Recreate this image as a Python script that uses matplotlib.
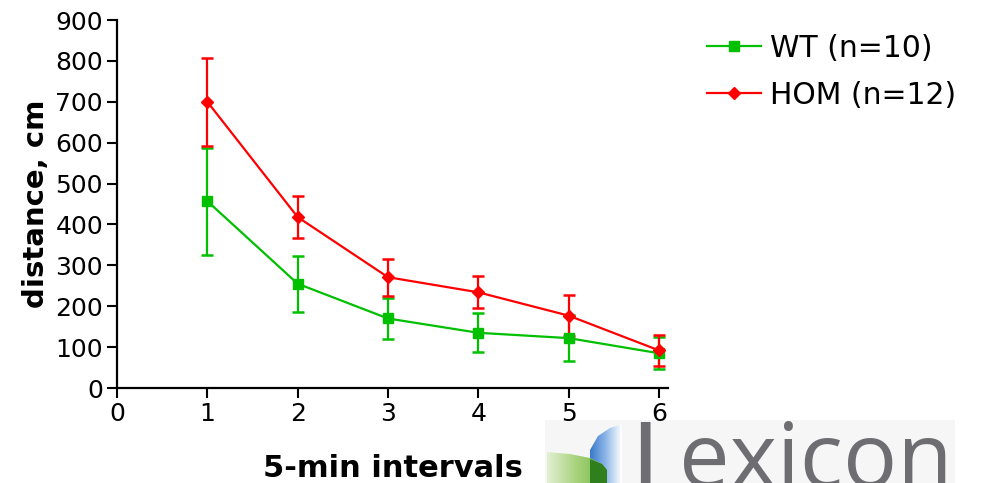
import numpy as np
import matplotlib.pyplot as plt
from matplotlib.patches import Polygon, Rectangle
from matplotlib.colors import LinearSegmentedColormap

intervals = [1, 2, 3, 4, 5, 6]
wt_mean = [457, 255, 170, 135, 122, 85]
wt_err = [131, 68, 50, 48, 56, 39]
hom_mean = [700, 418, 271, 234, 177, 92]
hom_err = [108, 52, 45, 39, 50, 37]

green = '#00c000'
red = '#ff0000'

fig = plt.figure(figsize=(9.88, 4.83), dpi=100)
ax = fig.add_axes([117/988, 1-388/483, (668-117)/988, (388-20)/483])

ax.errorbar(intervals, wt_mean, yerr=wt_err, color=green, lw=1.6, marker='s', ms=7,
            capsize=4.5, capthick=1.8, elinewidth=1.6, label='WT (n=10)')
ax.errorbar(intervals, hom_mean, yerr=hom_err, color=red, lw=1.6, marker='D', ms=6.5,
            capsize=4.5, capthick=1.8, elinewidth=1.6, label='HOM (n=12)')

ax.set_xlim(0, 6.1)
ax.set_ylim(0, 900)
ax.set_xticks(range(0, 7))
ax.set_yticks(range(0, 901, 100))
for s in ['top', 'right']:
    ax.spines[s].set_visible(False)
for s in ['left', 'bottom']:
    ax.spines[s].set_linewidth(1.6)
ax.tick_params(labelsize=18, width=1.5, length=7, pad=3)
ax.set_xlabel('5-min intervals', fontsize=22, fontweight='bold', labelpad=20)
ax.set_ylabel('distance, cm', fontsize=21, fontweight='bold', labelpad=4)

handles, labels = ax.get_legend_handles_labels()
handles = [h[0] for h in handles]
fig.legend(handles, labels, loc='upper left', bbox_to_anchor=(695/988, 1-22/483),
           frameon=False, fontsize=21.5, handlelength=1.8, handletextpad=0.3,
           labelspacing=0.6, borderaxespad=0)

# logo in the lower right corner
lg = fig.add_axes([0, 0, 1, 1], zorder=-1)
lg.set_xlim(0, 988)
lg.set_ylim(483, 0)
lg.axis('off')
lg.add_patch(Rectangle((545, 420), 410, 70, color='#f6f6f6', lw=0, zorder=-2))

grad = np.linspace(0, 1, 64).reshape(1, -1)

blue_pts = [(590, 490), (590, 450), (598, 436), (610, 428), (622, 424), (622, 490)]
blue_poly = Polygon(blue_pts, closed=True, fc='none', ec='none')
lg.add_patch(blue_poly)
bcmap = LinearSegmentedColormap.from_list('b', ['#3a78cc', '#8fb8e8', '#ffffff'])
im = lg.imshow(grad, cmap=bcmap, extent=(590, 622, 490, 424), aspect='auto', zorder=1)
im.set_clip_path(blue_poly)

green_pts = [(547, 490), (547, 452), (570, 454), (590, 458), (602, 464), (607, 470), (607, 490)]
green_poly = Polygon(green_pts, closed=True, fc='none', ec='none')
lg.add_patch(green_poly)
gcmap = LinearSegmentedColormap.from_list('g', ['#e2f0d2', '#a6d27a', '#74b446'])
im2 = lg.imshow(grad, cmap=gcmap, extent=(547, 607, 490, 452), aspect='auto', zorder=2)
im2.set_clip_path(green_poly)
lg.add_patch(Polygon([(590, 490), (590, 459), (602, 464), (607, 470), (607, 490)],
                     closed=True, fc='#2f7f1c', ec='none', zorder=3))

lg.text(633, 486, 'l', fontsize=60, color='#6e6d72', family='Open Sans',
        fontweight='semibold', va='baseline')
lg.text(679, 487, 'exicon', fontsize=65, color='#6e6d72', family='Open Sans',
        va='baseline')
lg.set_xlim(0, 988)
lg.set_ylim(483, 0)

fig.savefig('out.png', dpi=100)
